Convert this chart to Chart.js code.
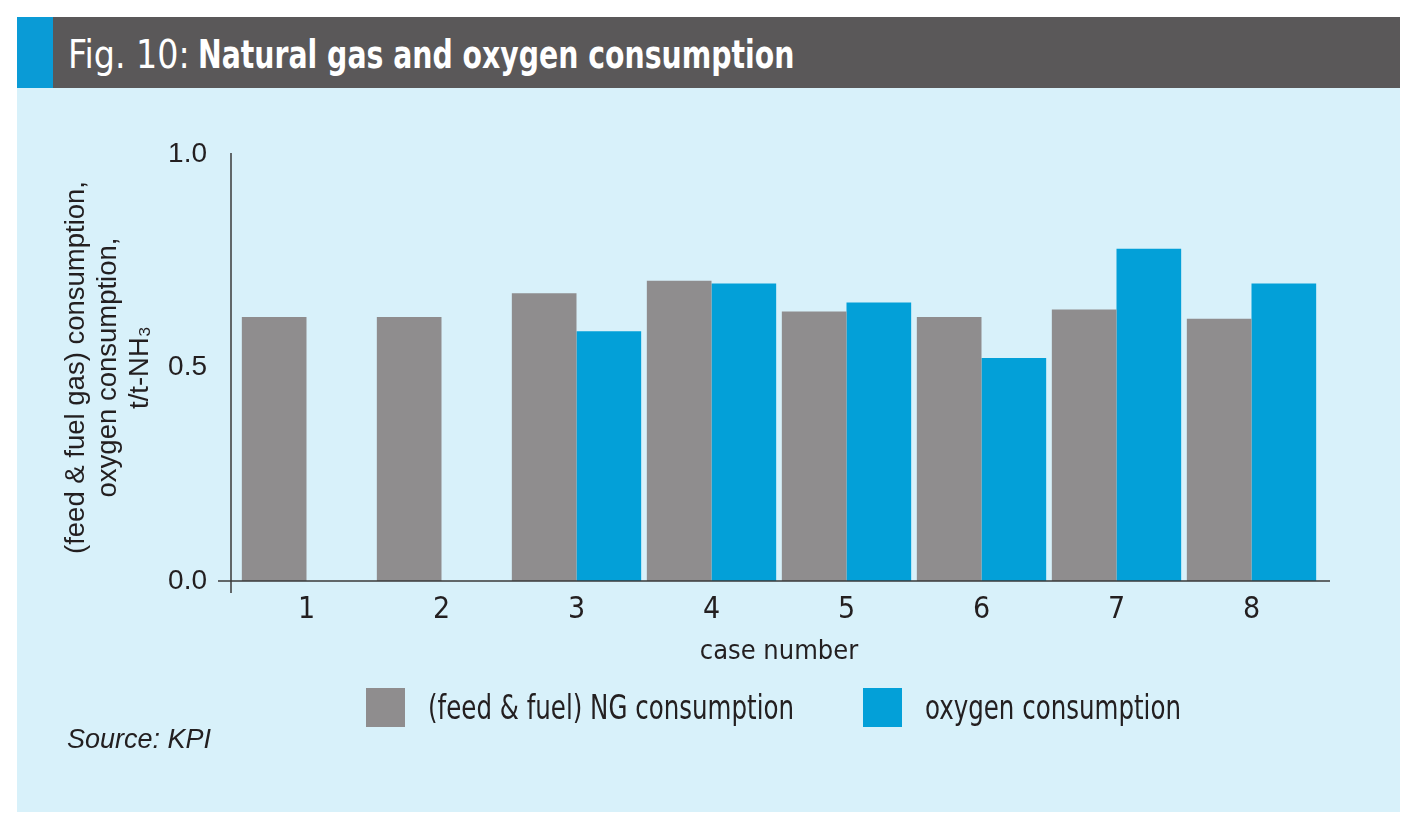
<!DOCTYPE html>
<html>
<head>
<meta charset="utf-8">
<script src="https://cdn.jsdelivr.net/npm/chart.js@4.4.1/dist/chart.umd.min.js"></script>
<style>
  body { margin: 0; background: #ffffff; }
  #panel { position: absolute; left: 17px; top: 17px; width: 1383px; height: 795px; background: #d8f1fa; }
  #head { position: absolute; left: 0; top: 0; width: 1383px; height: 71px; background: #5a5859; }
  #accent { position: absolute; left: 0; top: 0; width: 36px; height: 71px; background: #0a9bd6; }
  .ttl { position: absolute; top: 2px; line-height: 71px; color: #ffffff; white-space: nowrap; transform-origin: left center;
         font-family: "DejaVu Sans Condensed", "Liberation Sans", sans-serif; font-size: 39px; }
  #ttl1 { left: 51px; transform: scaleX(0.95); }
  #ttl2 { left: 181px; font-weight: bold; transform: scaleX(0.807); }
  #plot { position: absolute; left: 0; top: 71px; width: 1383px; height: 724px; }
  #legend { position: absolute; top: 671px; left: 0; height: 39px; }
  .item { position: absolute; top: 0; height: 39px; display: flex; align-items: center; white-space: nowrap;
          font-family: "DejaVu Sans Condensed", "Liberation Sans", sans-serif; font-size: 33px; color: #231f20; }
  .box { width: 39px; height: 39px; margin-right: 23px; flex: none; }
  .lbl { display: inline-block; transform: scaleX(0.826); transform-origin: left center; }
  #source { position: absolute; left: 50px; top: 707px; line-height: 30px; white-space: nowrap;
            font-family: "Liberation Sans", Arial, sans-serif; font-style: italic; font-size: 27px; color: #231f20; }
</style>
</head>
<body>
<div id="panel">
  <div id="head">
    <div id="accent"></div>
    <div class="ttl" id="ttl1">Fig. 10:</div>
    <div class="ttl" id="ttl2">Natural gas and oxygen consumption</div>
  </div>
  <div id="plot"><canvas id="chart" width="1383" height="724"></canvas></div>
  <div id="legend"></div>
  <div id="source">Source: KPI</div>
</div>
<script>
// case numbers on the x axis
const cases = ['1', '2', '3', '4', '5', '6', '7', '8'];
// t/t-NH3
const ngConsumption = [0.618, 0.618, 0.674, 0.703, 0.631, 0.618, 0.636, 0.614];
const oxygenConsumption = [null, null, 0.585, 0.697, 0.652, 0.522, 0.778, 0.697];
const seriesLabels = ['(feed & fuel) NG consumption', 'oxygen consumption'];
const seriesColors = ['#8f8d8e', '#03a0d8'];
const yTitle = ['(feed & fuel gas) consumption,', 'oxygen consumption,', 't/t-NH\u2083'];
const xTitle = 'case number';

const textColor = '#231f20';
const narrow = '"DejaVu Sans Condensed", "Liberation Sans", sans-serif';
const regular = '"Liberation Sans", Arial, sans-serif';

// axis lines sit a bit off the plot area, like the print version
const axisLines = {
    id: 'axisLines',
    afterDatasetsDraw(chart) {
        const { ctx, chartArea, scales } = chart;
        const y0 = scales.y.getPixelForValue(0);
        const y1 = scales.y.getPixelForValue(1);
        ctx.save();
        ctx.strokeStyle = '#3a3a3a';
        ctx.lineWidth = 1.5;
        ctx.beginPath();
        ctx.moveTo(chartArea.left - 8, y1 - 1);
        ctx.lineTo(chartArea.left - 8, y0 + 12);
        ctx.moveTo(chartArea.left - 21, y0);
        ctx.lineTo(chartArea.right + 11, y0);
        ctx.stroke();
        ctx.restore();
    }
};

var ctx = document.getElementById('chart').getContext('2d');
new Chart(ctx, {
    type: 'bar',
    data: {
        labels: cases,
        datasets: [{
            label: seriesLabels[0],
            data: ngConsumption,
            backgroundColor: seriesColors[0],
            borderWidth: 0
        }, {
            label: seriesLabels[1],
            data: oxygenConsumption,
            backgroundColor: seriesColors[1],
            borderWidth: 0
        }]
    },
    options: {
        responsive: false,
        animation: false,
        categoryPercentage: 0.958,
        barPercentage: 1.0,
        layout: {
            padding: { left: 0, right: 81, top: 66, bottom: 0 }
        },
        plugins: {
            legend: { display: false },
            tooltip: { enabled: false }
        },
        scales: {
            x: {
                grid: { display: false, drawTicks: false },
                border: { display: false },
                ticks: {
                    color: textColor,
                    padding: 11,
                    font: { family: narrow, size: 30 }
                },
                title: {
                    display: true,
                    text: xTitle,
                    color: textColor,
                    font: { family: narrow, size: 27 },
                    padding: { top: 0, bottom: 144 }
                },
                afterFit: function (scale) { scale.height = 231; }
            },
            y: {
                min: 0,
                max: 1,
                grid: { display: false, drawTicks: false },
                border: { display: false },
                ticks: {
                    stepSize: 0.5,
                    color: textColor,
                    padding: 32,
                    font: { family: regular, size: 28 },
                    callback: function (v) { return v.toFixed(1); }
                },
                title: {
                    display: true,
                    text: yTitle,
                    color: textColor,
                    font: { family: regular, size: 27.5, lineHeight: 1.15 },
                    padding: { top: 44, bottom: 0 }
                },
                afterFit: function (scale) { scale.width = 222; }
            }
        }
    },
    plugins: [axisLines]
});

// legend drawn as html under the plot
var legend = document.getElementById('legend');
var legendLeft = [349, 846];
seriesLabels.forEach(function (txt, i) {
    var item = document.createElement('div');
    item.className = 'item';
    item.style.left = legendLeft[i] + 'px';
    var box = document.createElement('div');
    box.className = 'box';
    box.style.background = seriesColors[i];
    var lbl = document.createElement('span');
    lbl.className = 'lbl';
    lbl.textContent = txt;
    item.appendChild(box);
    item.appendChild(lbl);
    legend.appendChild(item);
});
</script>
</body>
</html>
